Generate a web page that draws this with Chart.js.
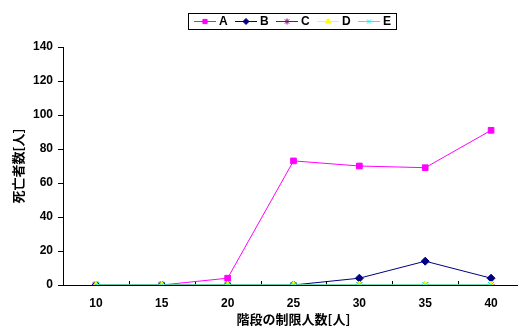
<!DOCTYPE html>
<html lang="ja">
<head>
  <meta charset="UTF-8">
  <title>死亡者数</title>
  <script src="https://cdn.jsdelivr.net/npm/chart.js"></script>
  <style>
    html, body { margin: 0; padding: 0; background: #fff; overflow: hidden; }
    canvas { display: block; }
  </style>
</head>
<body>
  <canvas id="chart" width="530" height="327"></canvas>
  <script>
    const categories = ['10', '15', '20', '25', '30', '35', '40'];
    const seriesNames = ['A', 'B', 'C', 'D', 'E'];
    const valuesA = [0, 0, 4, 73, 70, 69, 91];
    const valuesB = [0, 0, 0, 0, 4, 14, 4];
    const valuesC = [0, 0, 0, 0, 0, 0, 0];
    const valuesD = [0, 0, 0, 0, 0, 0, 0];
    const valuesE = [0, 0, 0, 0, 0, 0, 0];
    const colors = ['#ff00ff', '#000080', '#800080', '#ffff00', '#00ffff'];
    const markers = ['rect', 'rectRot', 'star', 'triangle', 'crossRot'];

    const numFont = { family: '"Liberation Sans", Arial, sans-serif', size: 12, weight: 'bold' };
    const jpFont = { family: '"Noto Sans CJK JP", sans-serif', size: 13, weight: 'bold' };

    const allValues = [valuesA, valuesB, valuesC, valuesD, valuesE];
    const datasets = allValues.map((vals, i) => ({
      label: seriesNames[i],
      data: vals,
      borderColor: colors[i],
      backgroundColor: colors[i],
      borderWidth: 1,
      pointStyle: markers[i],
      pointRadius: 4,
      pointBorderWidth: 1,
      pointHoverRadius: 4,
      tension: 0,
      order: 5 - i
    }));

    // legend box with line + marker, like the original
    const boxLegend = {
      id: 'boxLegend',
      afterDraw(chart) {
        const ctx = chart.ctx;
        ctx.save();
        ctx.strokeStyle = '#000';
        ctx.lineWidth = 1;
        ctx.strokeRect(188.5, 13.5, 208, 16);
        chart.data.datasets.forEach((ds, i) => {
          const x0 = 194 + i * 41;
          const y = 21.5;
          ctx.strokeStyle = ds.borderColor;
          ctx.fillStyle = ds.backgroundColor;
          ctx.beginPath();
          ctx.moveTo(x0, y);
          ctx.lineTo(x0 + 22, y);
          ctx.stroke();
          Chart.helpers.drawPoint(ctx, { pointStyle: ds.pointStyle, radius: 3, rotation: 0, borderWidth: 1 }, x0 + 11, y);
          ctx.fillStyle = '#000';
          ctx.font = 'bold 12px "Liberation Sans", Arial, sans-serif';
          ctx.textBaseline = 'middle';
          ctx.fillText(ds.label, x0 + 25, y);
        });
        ctx.restore();
      }
    };

    // small tick marks pointing up between categories
    const innerTicks = {
      id: 'innerTicks',
      beforeDatasetsDraw(chart) {
        const xs = chart.scales.x;
        const ctx = chart.ctx;
        ctx.save();
        ctx.strokeStyle = '#000';
        ctx.lineWidth = 1;
        for (let i = 1; i < categories.length; i++) {
          const px = Math.round(xs.getPixelForValue(i - 0.5)) + 0.5;
          ctx.beginPath();
          ctx.moveTo(px, xs.top);
          ctx.lineTo(px, xs.top - 4);
          ctx.stroke();
        }
        ctx.restore();
      }
    };

    new Chart(document.getElementById('chart'), {
      type: 'line',
      data: { labels: categories, datasets: datasets },
      options: {
        responsive: false,
        animation: false,
        layout: { padding: { top: 47, right: 6, left: 0, bottom: 0 } },
        plugins: { legend: { display: false }, tooltip: { enabled: false } },
        scales: {
          x: {
            offset: true,
            grid: { display: false, tickLength: 0 },
            border: { display: true, color: '#000', width: 1 },
            ticks: { color: '#000', font: numFont, padding: 11, maxRotation: 0 },
            title: { display: true, text: '階段の制限人数[人]', color: '#000', font: jpFont, padding: { top: 0, bottom: 0 } },
            afterFit(scale) { scale.height = 42; }
          },
          y: {
            min: 0,
            max: 140,
            ticks: { stepSize: 20, color: '#000', font: numFont, padding: 5 },
            grid: { drawOnChartArea: false, drawTicks: true, tickLength: 5, color: '#000' },
            border: { display: true, color: '#000', width: 1 },
            title: { display: true, text: '死亡者数[人]', color: '#000', font: jpFont, padding: { top: 10, bottom: 0 } },
            afterFit(scale) { scale.width = 63; }
          }
        }
      },
      plugins: [boxLegend, innerTicks]
    });
  </script>
</body>
</html>
